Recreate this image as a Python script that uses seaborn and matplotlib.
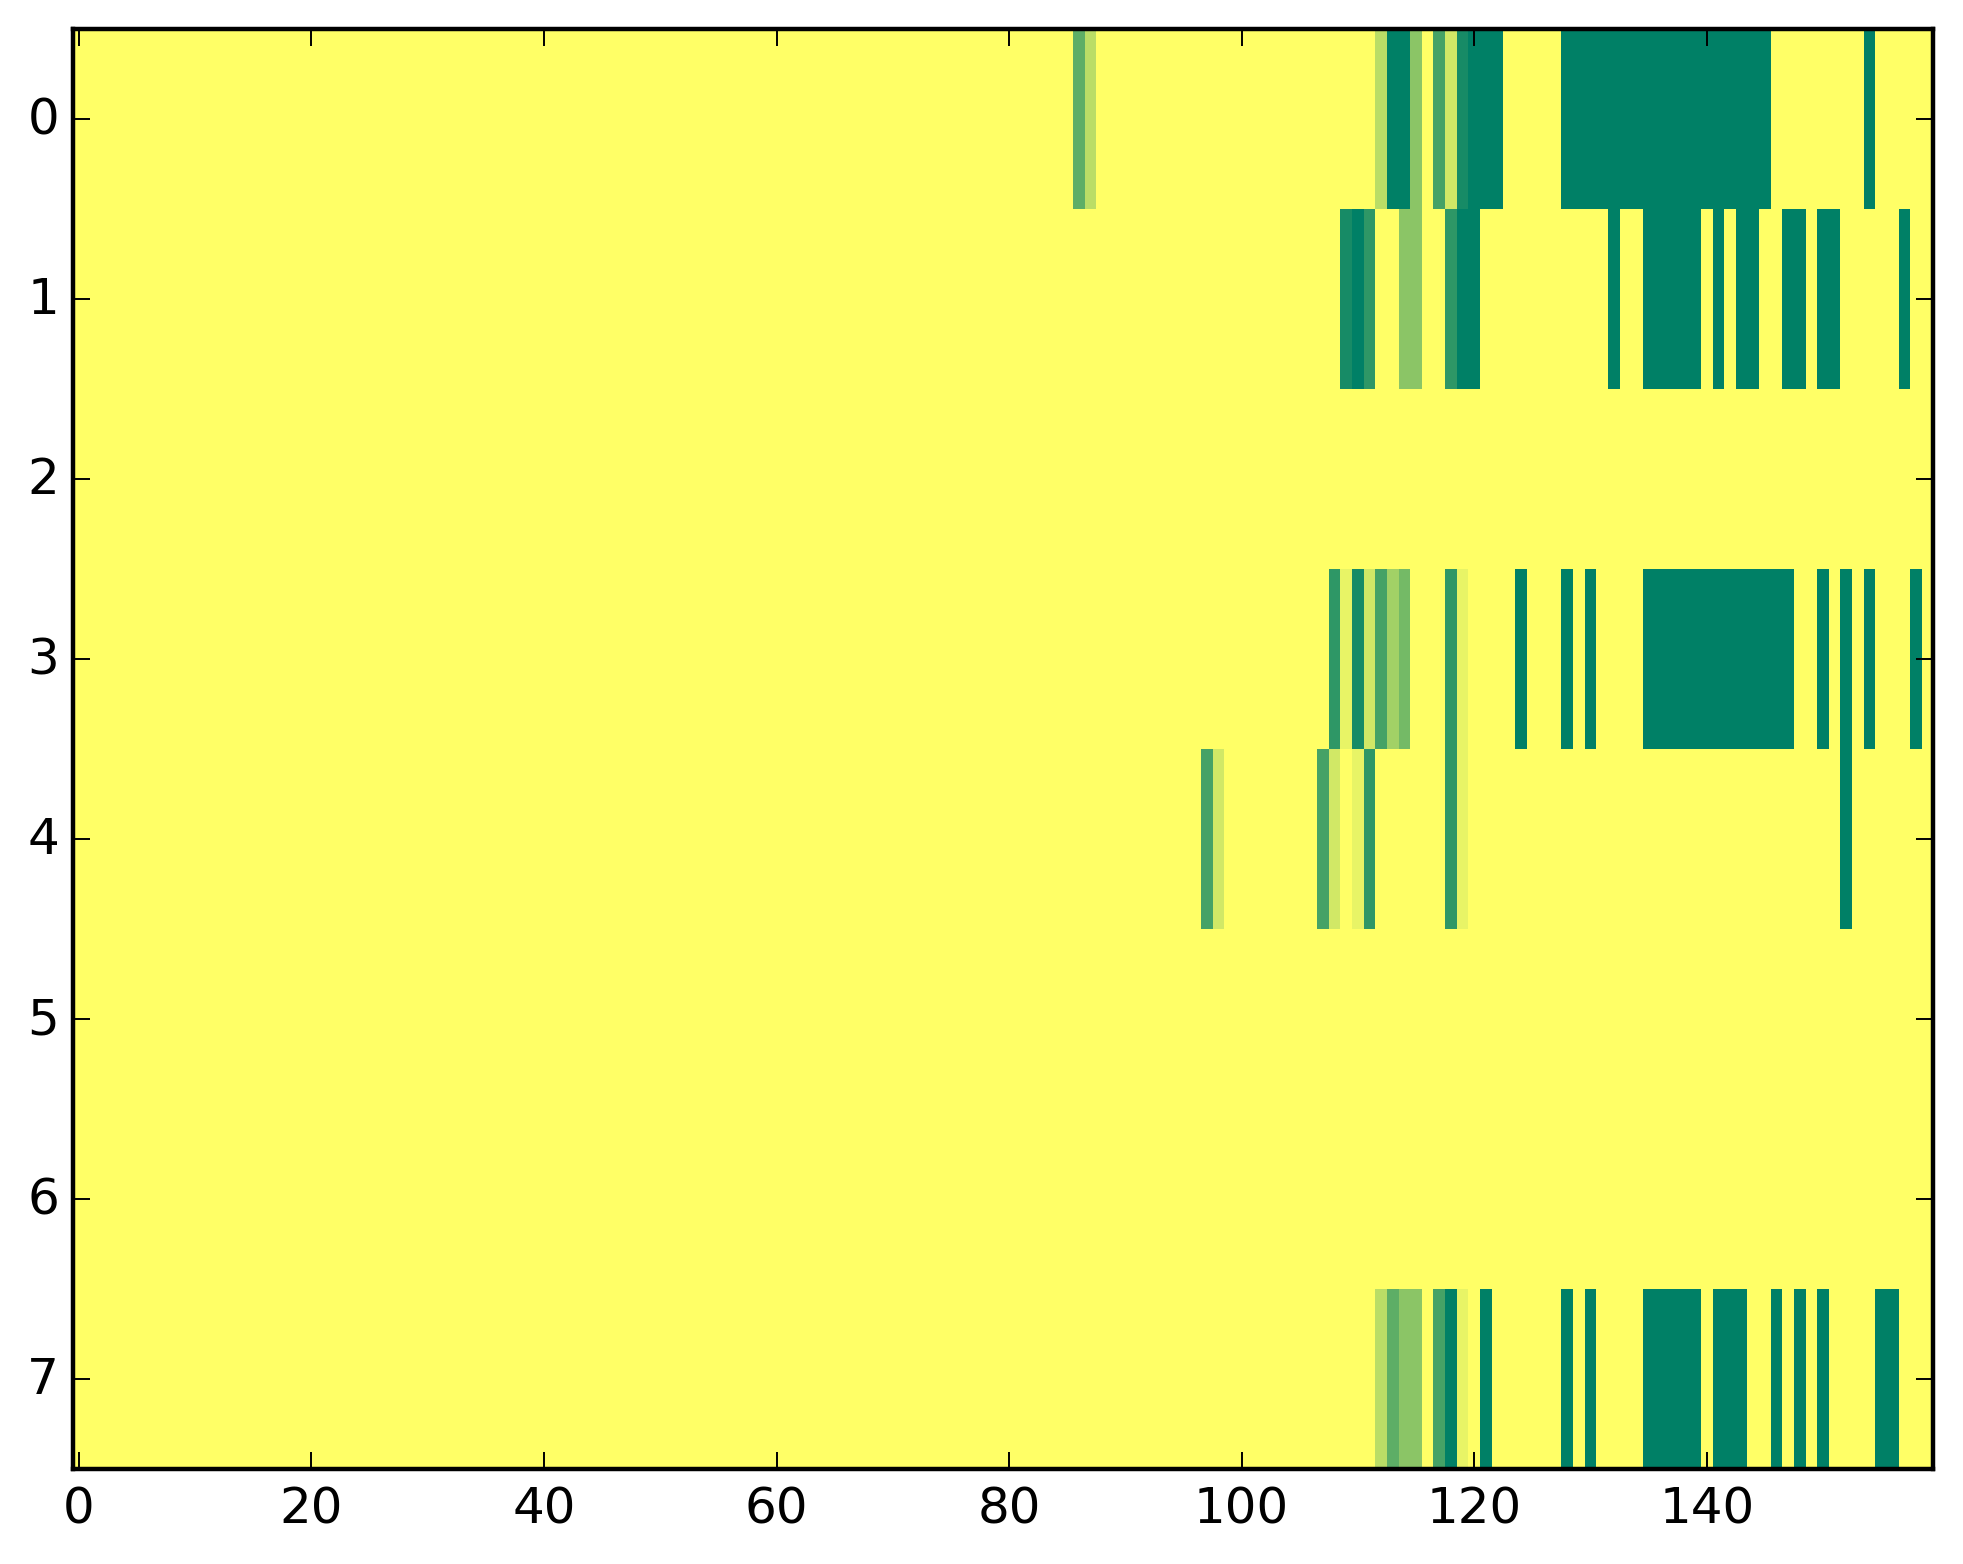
import numpy as np
import matplotlib
matplotlib.use('Agg')
import matplotlib.pyplot as plt
from matplotlib.transforms import ScaledTranslation
import seaborn as sns

n_rows = 8
n_cols = 160
x_ticks = [0, 20, 40, 60, 80, 100, 120, 140]
y_ticks = [0, 1, 2, 3, 4, 5, 6, 7]

# column indexes and levels per row, the other cells and rows are 0
row0_cols = [86, 87, 112, 113, 114, 115, 117, 118, 119, 120, 121, 122,
             128, 129, 130, 131, 132, 133, 134, 135, 136, 137, 138, 139,
             140, 141, 142, 143, 144, 145, 154]
row0_vals = [7, 3, 3, 11, 11, 5, 8, 2, 10, 11, 11, 11,
             11, 11, 11, 11, 11, 11, 11, 11, 11, 11, 11, 11,
             11, 11, 11, 11, 11, 11, 11]
row1_cols = [109, 110, 111, 114, 115, 118, 119, 120, 132, 135, 136, 137,
             138, 139, 141, 143, 144, 147, 148, 150, 151, 157]
row1_vals = [10, 11, 9, 5, 5, 9, 11, 11, 11, 11, 11, 11,
             11, 11, 11, 11, 11, 11, 11, 11, 11, 11]
row3_cols = [108, 109, 110, 111, 112, 113, 114, 118, 119, 124, 128, 130,
             135, 136, 137, 138, 139, 140, 141, 142, 143, 144, 145, 146,
             147, 150, 152, 154, 158]
row3_vals = [9, 1, 10, 2, 8, 4, 6, 9, 1, 11, 11, 11,
             11, 11, 11, 11, 11, 11, 11, 11, 11, 11, 11, 11,
             11, 11, 11, 11, 11]
row4_cols = [97, 98, 107, 108, 110, 111, 118, 119, 152]
row4_vals = [8, 2, 8, 2, 1, 9, 9, 1, 11]
row7_cols = [112, 113, 114, 115, 117, 118, 119, 121, 128, 130, 135, 136,
             137, 138, 139, 141, 142, 143, 146, 148, 150, 155, 156]
row7_vals = [3, 7, 5, 5, 8, 11, 1, 11, 11, 11, 11, 11,
             11, 11, 11, 11, 11, 11, 11, 11, 11, 11, 11]

grid = np.zeros((n_rows, n_cols))
grid[0, row0_cols] = row0_vals
grid[1, row1_cols] = row1_vals
grid[3, row3_cols] = row3_vals
grid[4, row4_cols] = row4_vals
grid[7, row7_cols] = row7_vals

sns.set_style('white')
plt.rcParams['font.family'] = ['DejaVu Sans']

W, H = 1963, 1564
fig = plt.figure(figsize=(W / 200, H / 200), dpi=200)
ax = fig.add_axes([73 / W, 1 - 1469 / H, (1933.5 - 73) / W, (1469 - 29) / H])

sns.heatmap(grid, cmap='summer_r', vmin=0, vmax=11, cbar=False, ax=ax)

ax.set_xticks([t + 0.5 for t in x_ticks])
ax.set_xticklabels(x_ticks, rotation=0)
ax.set_yticks([t + 0.5 for t in y_ticks])
ax.set_yticklabels(y_ticks, rotation=0)
ax.set_axisbelow(False)
ax.tick_params(direction='in', top=True, right=True, left=True, bottom=True,
               length=6, width=0.7, color='k', labelsize=18, labelcolor='k')
ax.tick_params(axis='x', pad=6)
ax.tick_params(axis='y', pad=5)
# y labels sit a little lower than matplotlib centres them
shift = ScaledTranslation(0, -1.5 / 200, fig.dpi_scale_trans)
for lab in ax.get_yticklabels():
    lab.set_transform(lab.get_transform() + shift)
for s in ax.spines.values():
    s.set_visible(True)
    s.set_color('k')
    s.set_linewidth(1.6)

fig.savefig('out.png', dpi=200)
